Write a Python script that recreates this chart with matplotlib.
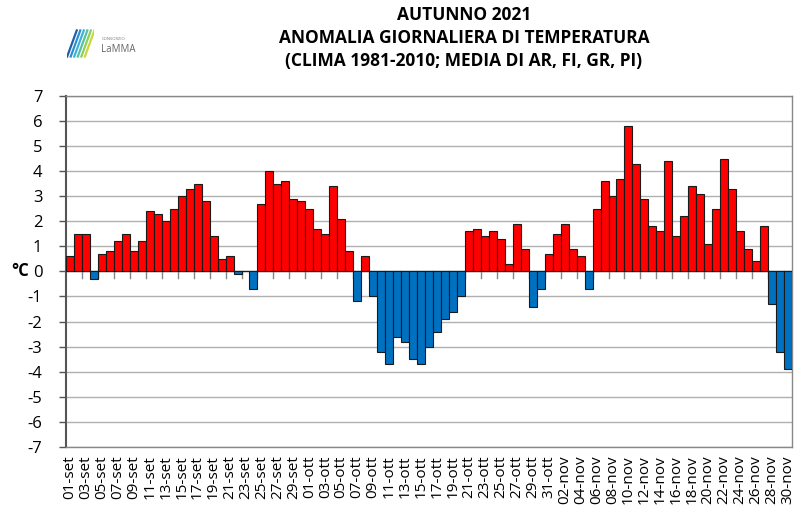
import matplotlib
matplotlib.use("Agg")
import matplotlib.pyplot as plt
import numpy as np
import datetime as dt

# ---- data ----
months_it = {9: "set", 10: "ott", 11: "nov"}
start = dt.date(2021, 9, 1)
n_days = 91
dates = [start + dt.timedelta(days=i) for i in range(n_days)]
labels = [f"{d.day:02d}-{months_it[d.month]}" for d in dates]

anomaly = [
    # September
    0.6, 1.5, 1.5, -0.3, 0.7, 0.8, 1.2, 1.5, 0.8, 1.2,
    2.4, 2.3, 2.0, 2.5, 3.0, 3.3, 3.5, 2.8, 1.4, 0.5,
    0.6, -0.1, 0.0, -0.7, 2.7, 4.0, 3.5, 3.6, 2.9, 2.8,
    # October
    2.5, 1.7, 1.5, 3.4, 2.1, 0.8, -1.2, 0.6, -1.0, -3.2,
    -3.7, -2.6, -2.8, -3.5, -3.7, -3.0, -2.4, -1.9, -1.6, -1.0,
    1.6, 1.7, 1.4, 1.6, 1.3, 0.3, 1.9, 0.9, -1.4, -0.7,
    0.7,
    # November
    1.5, 1.9, 0.9, 0.6, -0.7, 2.5, 3.6, 3.0, 3.7, 5.8,
    4.3, 2.9, 1.8, 1.6, 4.4, 1.4, 2.2, 3.4, 3.1, 1.1,
    2.5, 4.5, 3.3, 1.6, 0.9, 0.4, 1.8, -1.3, -3.2, -3.9,
]
yticks = list(range(-7, 8))

title_lines = ["AUTUNNO 2021",
               "ANOMALIA GIORNALIERA DI TEMPERATURA",
               "(CLIMA 1981-2010; MEDIA DI AR, FI, GR, PI)"]

# ---- plot ----
plt.rcParams['font.family'] = ['Open Sans', 'DejaVu Sans']
fig = plt.figure(figsize=(8.0, 5.27), dpi=100)
ax = fig.add_axes([0.0825, 0.152, 0.9075, 0.666])

x = np.arange(n_days)
colors = ["#FF0000" if v >= 0 else "#0070C0" for v in anomaly]
ax.bar(x, anomaly, width=1.0, color=colors, edgecolor="#1a1a1a", linewidth=0.8, zorder=3)

ax.set_xlim(-0.5, n_days - 0.5)
ax.set_ylim(-7, 7)
ax.set_yticks(yticks)
ax.set_yticklabels([str(t) for t in yticks], fontsize=12)
ax.yaxis.grid(True, color="#b0b0b0", linewidth=1.0, zorder=0)
ax.set_axisbelow(True)

# x labels at bottom for every second day
ax.set_xticks(x[::2])
ax.set_xticklabels(labels[::2], rotation=90, fontsize=11)
ax.tick_params(axis='x', length=0, pad=6)
ax.tick_params(axis='y', length=5, width=1.0, color="#555555", pad=12)

# zero line with tick marks every two bars
ax.axhline(0, color="#888888", linewidth=1.0, zorder=2)
for b in np.arange(1.5, n_days - 0.5, 2):
    ax.plot([b, b], [0, -0.25], color="#888888", linewidth=1.0, zorder=2)

for s in ["top", "right", "bottom"]:
    ax.spines[s].set_color("#888888")
    ax.spines[s].set_linewidth(1.0)
ax.spines["left"].set_color("#555555")
ax.spines["left"].set_linewidth(1.5)

ax.set_ylabel("°C", rotation=0, fontsize=12, fontweight="bold", va="center")
ax.yaxis.set_label_coords(-0.063, 0.5)

# title
ys = [0.972, 0.928, 0.884]
for t, yy in zip(title_lines, ys):
    fig.text(0.58, yy, t, ha="center", va="center", fontsize=12.5, fontweight="bold",
             family=["Open Sans", "DejaVu Sans"], stretch="condensed")

# simple logo
lax = fig.add_axes([0.084, 0.89, 0.034, 0.055])
lax.set_xlim(0, 1)
lax.set_ylim(0, 1)
lax.axis("off")
logo_cols = ["#1f5fa8", "#2a8fd0", "#3bb3d8", "#58c0a0", "#8ccf5a", "#c8d83a"]
for i, c in enumerate(logo_cols):
    lax.plot([0.0 + i * 0.13, 0.35 + i * 0.13], [0.05, 0.95], color=c, linewidth=1.6)
fig.text(0.127, 0.926, "CONSORZIO", fontsize=3, color="#777777", va="center")
fig.text(0.126, 0.907, "LaMMA", fontsize=7, color="#666666", va="center")

fig.savefig("out.png", dpi=100)
